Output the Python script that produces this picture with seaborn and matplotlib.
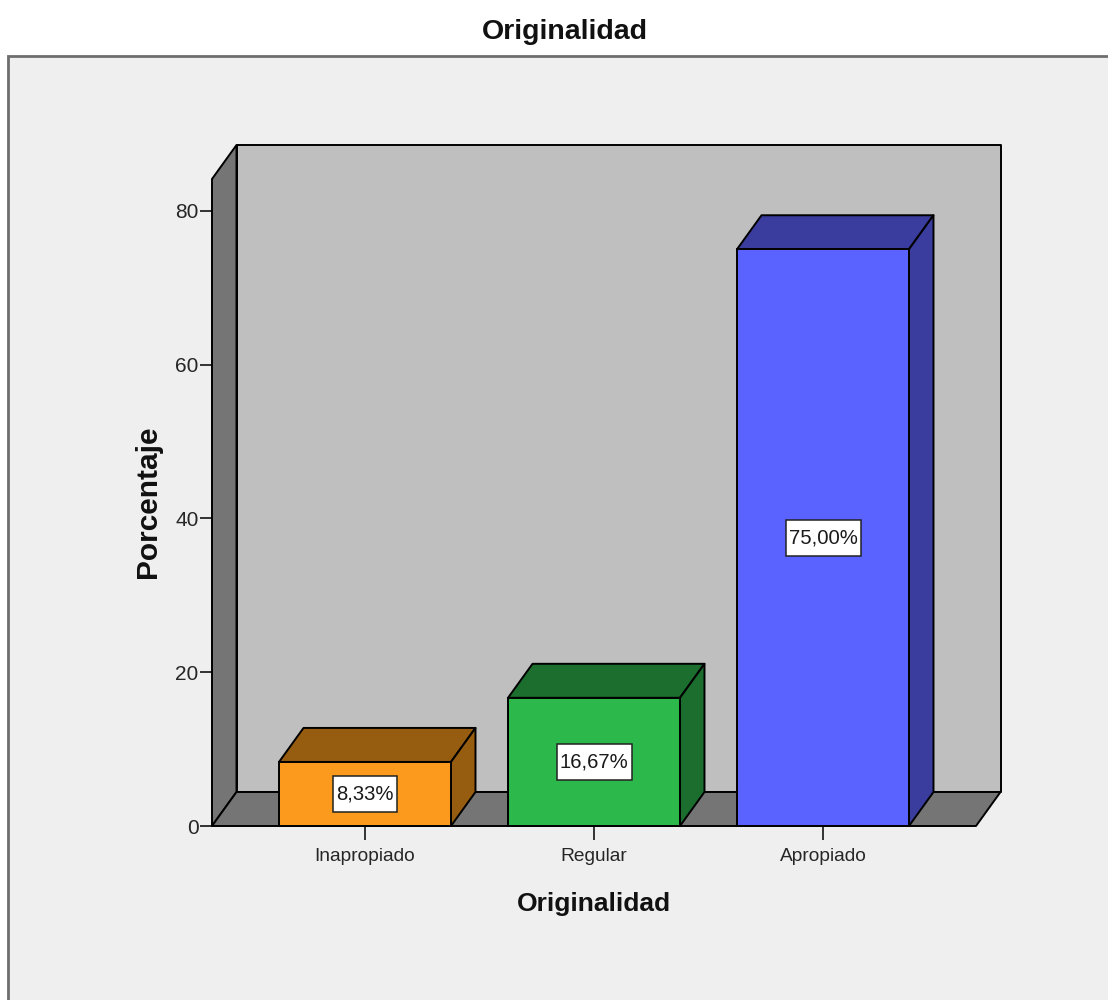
import seaborn as sns
import matplotlib.pyplot as plt
from matplotlib.patches import Polygon, Rectangle

categories = ['Inapropiado', 'Regular', 'Apropiado']
percentages = [8.33, 16.67, 75.00]
value_labels = ['8,33%', '16,67%', '75,00%']
y_ticks = [0, 20, 40, 60, 80]

front_colors = ['#FB9A1C', '#2DB84B', '#5A62FF']
dark_colors = ['#965C10', '#1B6E2E', '#3A3C9E']

W, H = 1108, 1000
X_LEFT, X_RIGHT, Y_BOTTOM, Y_TOP = 212, 976, 826, 179
PX_PER_CAT = 229.0
PX_PER_UNIT = 7.69
DEPTH_X = 24.5 / PX_PER_CAT
DEPTH_Y = 34 / PX_PER_UNIT
LINE = 1.4
FONT = ['Liberation Sans', 'DejaVu Sans']

sns.set_style('white')
plt.rcParams['font.family'] = FONT

fig = plt.figure(figsize=(W / 100, H / 100), dpi=100, facecolor='white')

# grey panel behind the chart
fig.add_artist(Rectangle((8 / W, -0.01), 1.1, 1.01 - 56 / H, transform=fig.transFigure,
                         facecolor='#EFEFEF', edgecolor='#6E6E6E', linewidth=2, zorder=-1))

ax = fig.add_axes([X_LEFT / W, 1 - Y_BOTTOM / H, (X_RIGHT - X_LEFT) / W, (Y_BOTTOM - Y_TOP) / H])
ax.patch.set_alpha(0)

sns.barplot(x=categories, y=percentages, hue=categories, palette=front_colors, legend=False,
            width=0.751, edgecolor='black', linewidth=LINE, saturation=1, ax=ax, zorder=5)

xmin = (X_LEFT - 365) / PX_PER_CAT
xmax = (X_RIGHT - 365) / PX_PER_CAT
ymax = (Y_BOTTOM - Y_TOP) / PX_PER_UNIT
ax.set_xlim(xmin, xmax)
ax.set_ylim(0, ymax)

bar_patches = list(ax.patches)


def face(points, color, z=2):
    ax.add_patch(Polygon(points, closed=True, facecolor=color, edgecolor='black',
                         linewidth=LINE, clip_on=False, zorder=z, joinstyle='round'))


# box walls: back, left, floor
face([(xmin + DEPTH_X, DEPTH_Y), (xmax + DEPTH_X, DEPTH_Y), (xmax + DEPTH_X, ymax + DEPTH_Y), (xmin + DEPTH_X, ymax + DEPTH_Y)], '#BFBFBF', 1)
face([(xmin, 0), (xmin + DEPTH_X, DEPTH_Y), (xmin + DEPTH_X, ymax + DEPTH_Y), (xmin, ymax)], '#757575')
face([(xmin, 0), (xmax, 0), (xmax + DEPTH_X, DEPTH_Y), (xmin + DEPTH_X, DEPTH_Y)], '#757575')

# top and side of every bar, taken from the front face seaborn drew
for bar, dark in zip(bar_patches, dark_colors):
    bar.set_clip_on(False)
    x0, x1, top = bar.get_x(), bar.get_x() + bar.get_width(), bar.get_height()
    face([(x0, top), (x1, top), (x1 + DEPTH_X, top + DEPTH_Y), (x0 + DEPTH_X, top + DEPTH_Y)], dark, 4)
    face([(x1, 0), (x1 + DEPTH_X, DEPTH_Y), (x1 + DEPTH_X, top + DEPTH_Y), (x1, top)], dark, 4)

# value labels sit in a tall white box
for i, (val, lab) in enumerate(zip(percentages, value_labels)):
    box_w = (11 * len(lab) + 9) / PX_PER_CAT
    box_h = 36 / PX_PER_UNIT
    ax.add_patch(Rectangle((i - box_w / 2, val / 2 - box_h / 2), box_w, box_h, facecolor='white',
                           edgecolor='#222222', linewidth=1.1, zorder=6))
    ax.text(i, val / 2, lab, ha='center', va='center', fontsize=14.6, color='#1A1A1A', zorder=7)

ax.set_yticks(y_ticks)
ax.tick_params(axis='y', length=8.6, width=1.1, color='black', labelsize=15, pad=1, left=True)
ax.tick_params(axis='x', length=10, width=1.1, color='black', labelsize=13.8, pad=6, bottom=True)
for s in ax.spines.values():
    s.set_visible(False)
ax.grid(False)

ax.set_xlabel('')
ax.set_ylabel('')
fig.text(594 / W, 1 - 904 / H, 'Originalidad', ha='center', va='center', fontsize=19, fontweight='bold', color='#111111')
fig.text(148 / W, 1 - 502 / H, 'Porcentaje', ha='center', va='center', rotation=90, fontsize=21.5, fontweight='bold', color='#111111')
fig.text(565 / W, 1 - 32 / H, 'Originalidad', ha='center', va='center', fontsize=20.5, fontweight='bold', color='#111111')

fig.savefig('out.png', dpi=100)
